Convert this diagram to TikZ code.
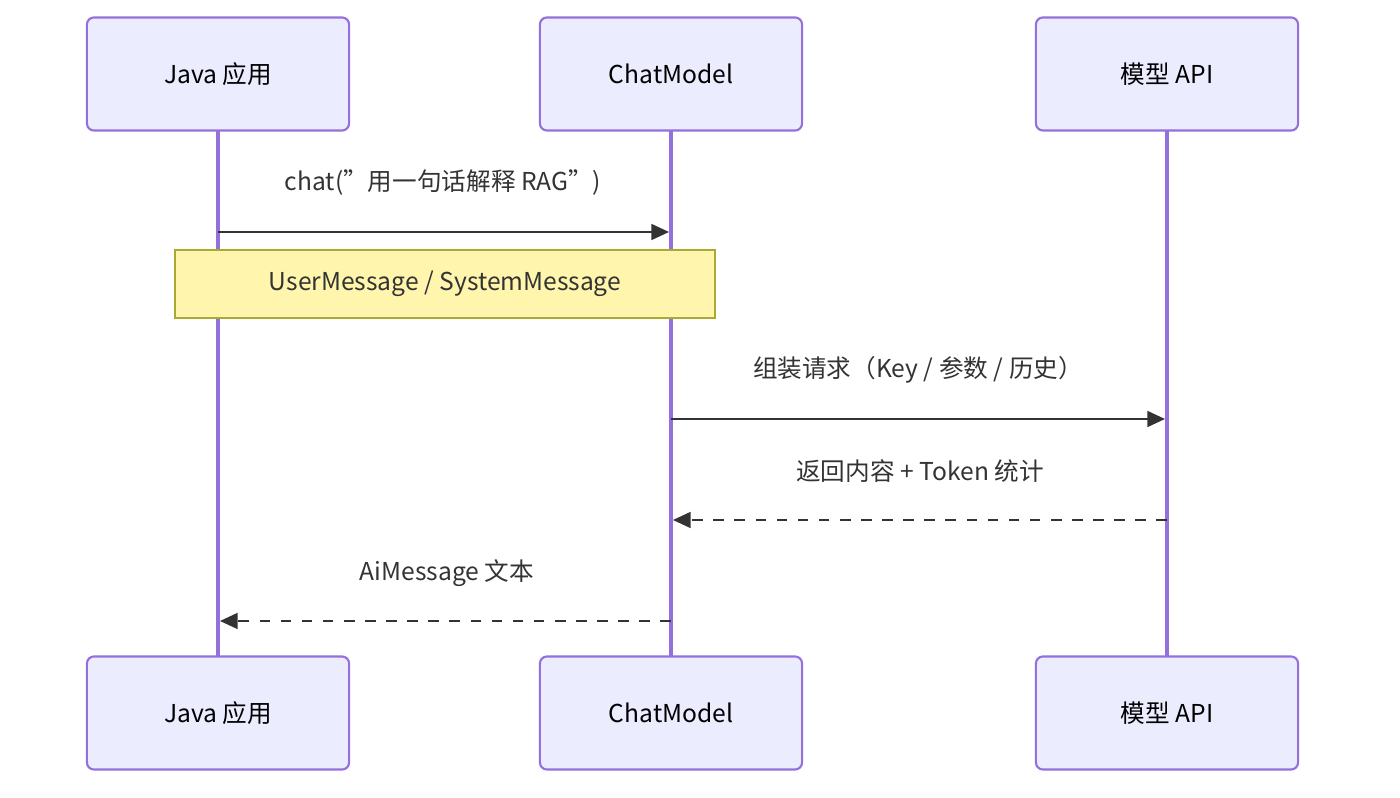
\documentclass[tikz,border=0pt]{standalone}
\usepackage{fontspec}
\setmainfont{Noto Sans CJK SC}
\usetikzlibrary{arrows.meta}
\definecolor{actorfill}{HTML}{ECECFF}
\definecolor{actorline}{HTML}{9370DB}
\definecolor{notefill}{HTML}{FFF5AD}
\definecolor{noteline}{HTML}{AAAA33}
\definecolor{msgtext}{HTML}{333333}
\tikzset{actor/.style = {draw=actorline,fill=actorfill,rounded corners=2pt,line width=0.6pt,minimum width=2.62cm,minimum height=1.13cm,text=black,font=\fontsize{7}{8}\selectfont}}
\tikzset{life/.style = {draw=actorline,line width=0.9pt}}
\tikzset{msg/.style = {draw=msgtext,line width=0.6pt,-{Triangle[length=5pt,width=4.5pt]}}}
\tikzset{reply/.style = {msg,dashed}}
\tikzset{label/.style = {text=msgtext,font=\fontsize{7}{8}\selectfont}}
\begin{document}
\begin{tikzpicture}[x=0.01cm,y=-0.01cm]
            \useasboundingbox (0,0) rectangle (1400,798);
            % Lifelines
            \draw[life] (218,131) -- (218,657);
            \draw[life] (671,131) -- (671,657);
            \draw[life] (1167,131) -- (1167,657);

            % Actors
            \node[actor] (java) at (218,74) {Java 应用};
            \node[actor] (chat) at (671,74) {ChatModel};
            \node[actor] (api) at (1167,74) {模型 API};
            \node[actor] (javab) at (218,713) {Java 应用};
            \node[actor] (chatb) at (671,713) {ChatModel};
            \node[actor] (apib) at (1167,713) {模型 API};

            % Anchors on lifelines
            \coordinate (j1) at (218,232);
            \coordinate (c1) at (669,232);
            \coordinate (c2) at (671,419);
            \coordinate (a2) at (1165,419);
            \coordinate (a3) at (1167,520);
            \coordinate (c3) at (673,520);
            \coordinate (c4) at (671,621);
            \coordinate (j4) at (220,621);

            % Messages
            \draw[msg] (j1) -- (c1);
            \node[label] at (443,183) {chat("用一句话解释 RAG")};
            \node[draw=noteline,fill=notefill,line width=0.6pt,minimum width=5.4cm,minimum height=0.68cm,label] (note) at (445,284) {UserMessage / SystemMessage};
            \draw[msg] (c2) -- (a2);
            \node[label] at (918,370) {组装请求（Key / 参数 / 历史）};
            \draw[reply] (a3) -- (c3);
            \node[label] at (920,471) {返回内容 + Token 统计};
            \draw[reply] (c4) -- (j4);
            \node[label] at (447,573) {AiMessage 文本};
        \end{tikzpicture}
\end{document}
